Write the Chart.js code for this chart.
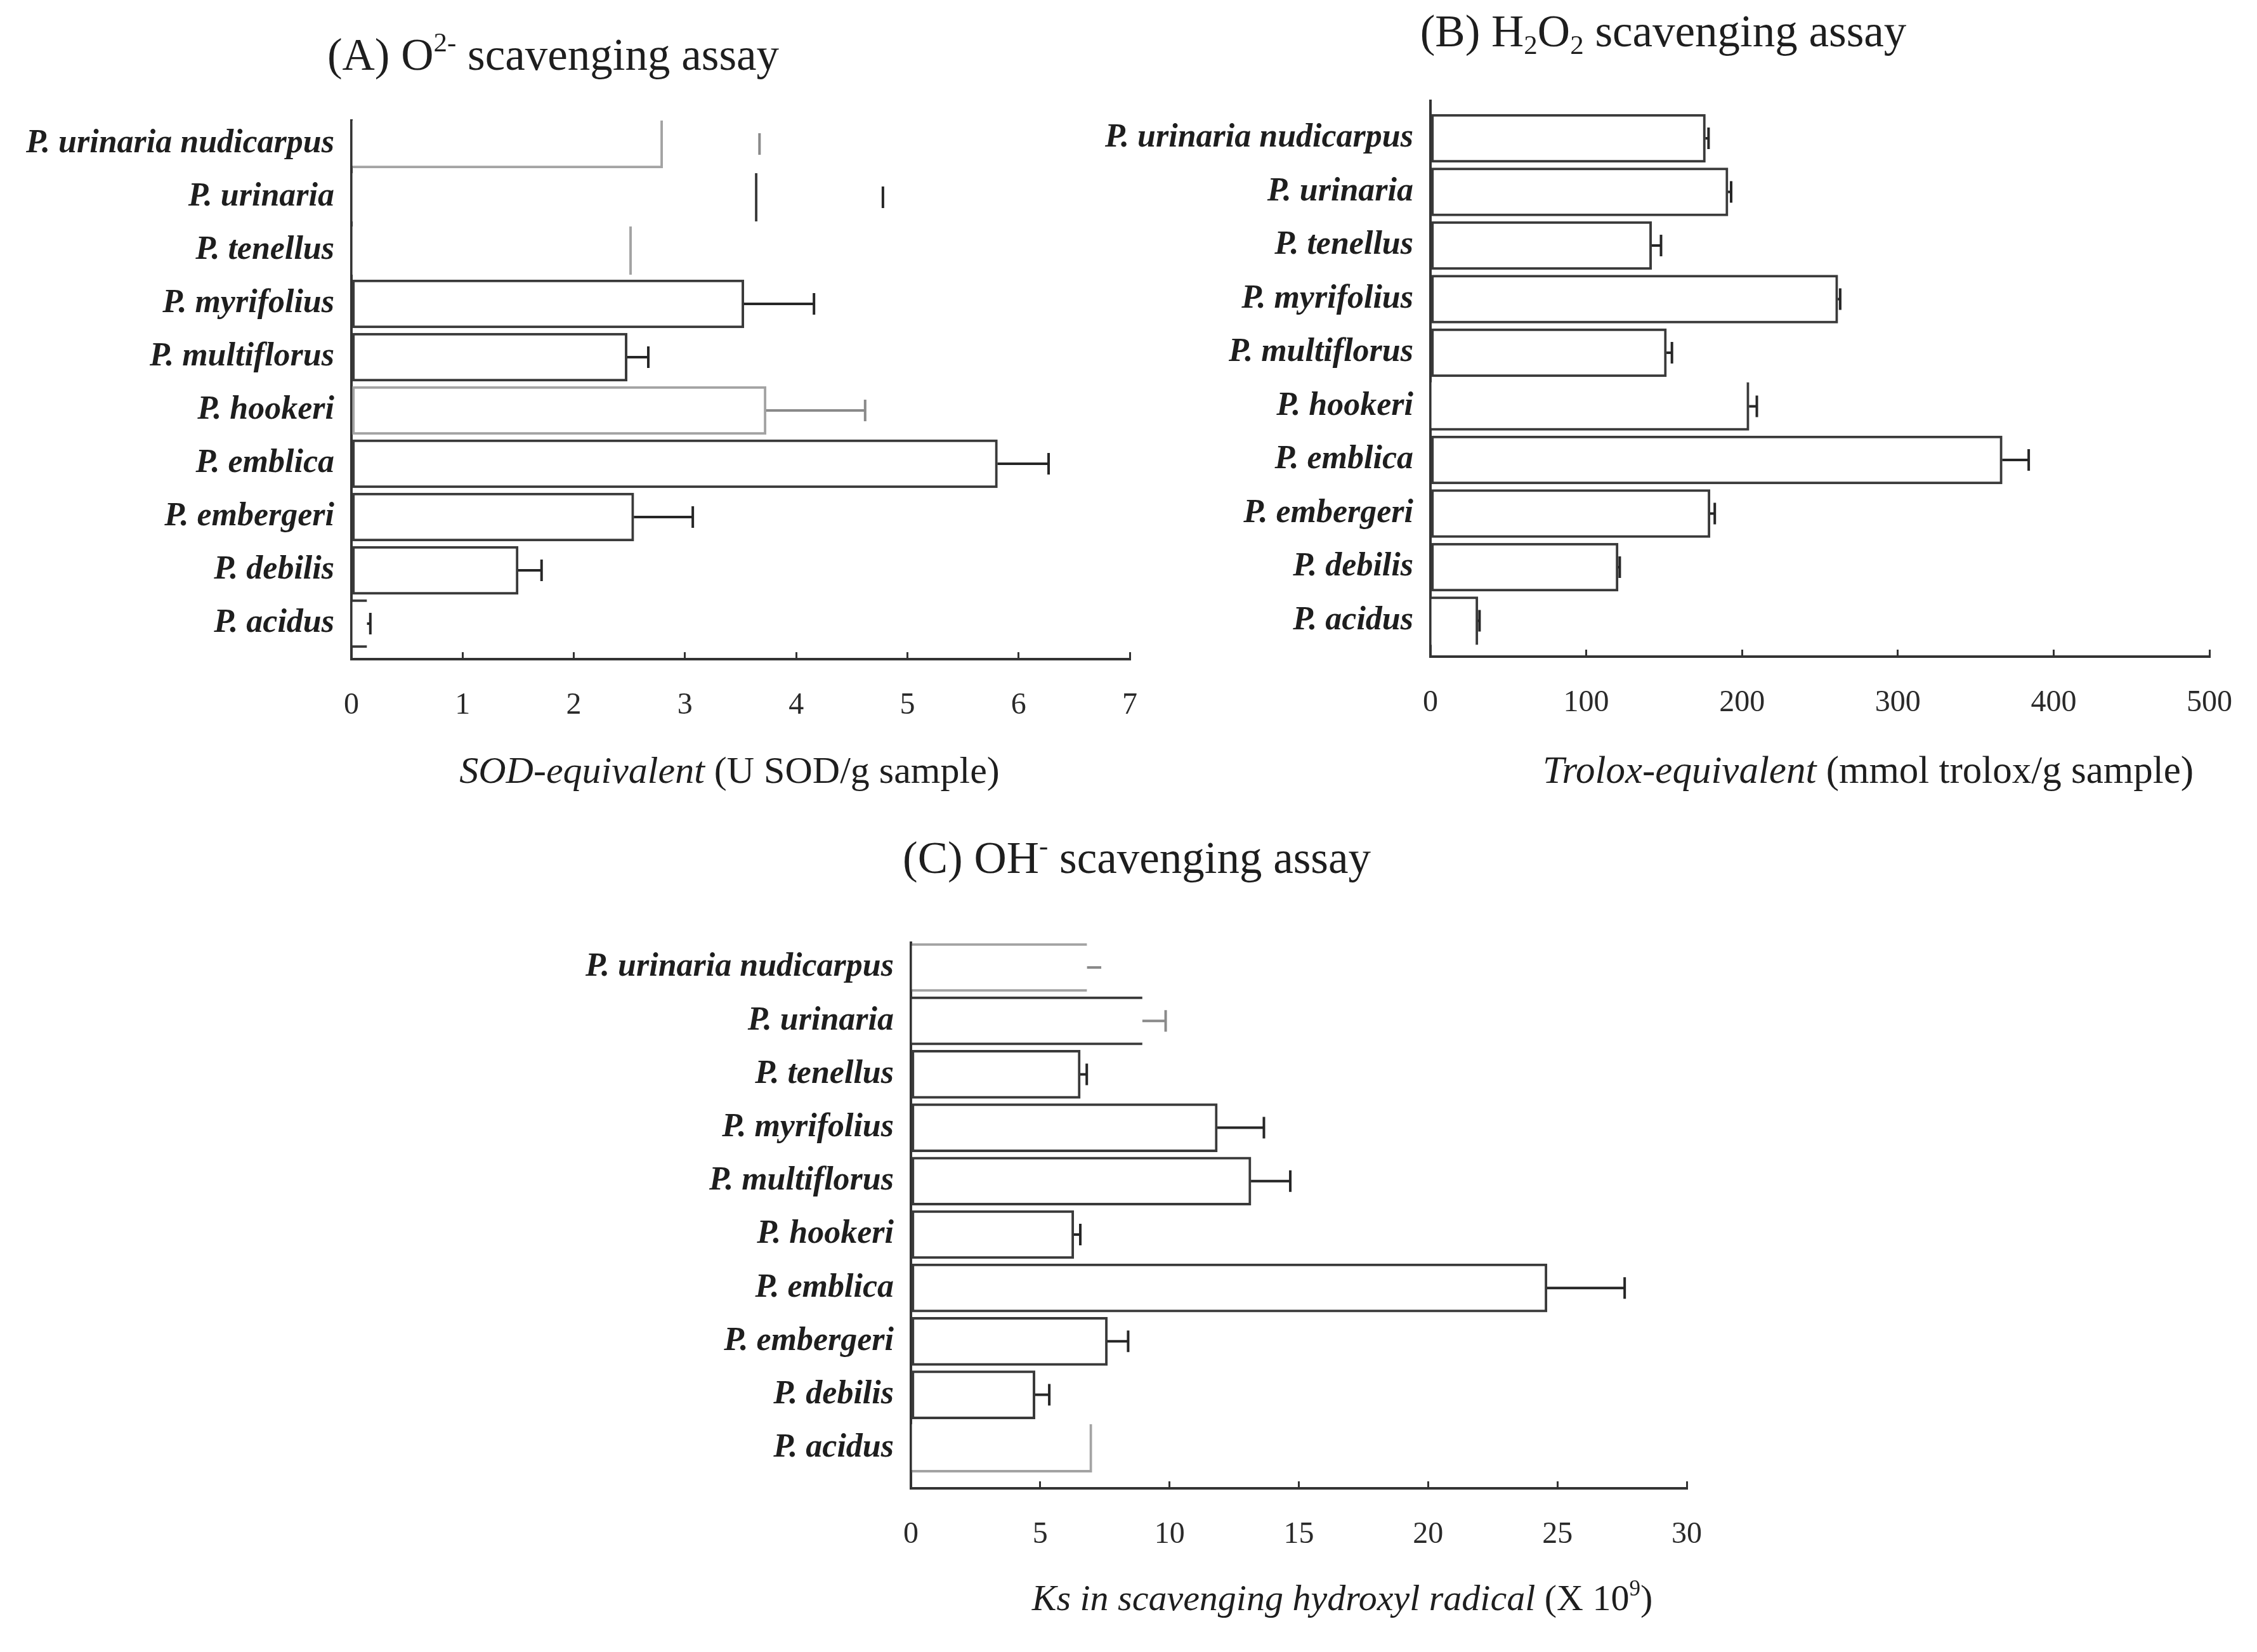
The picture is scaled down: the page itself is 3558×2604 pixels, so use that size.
<!DOCTYPE html>
<html lang="en">
<head>
<meta charset="UTF-8">
<title>Radical scavenging assays of Phyllanthus species</title>
<script src="https://cdn.jsdelivr.net/npm/chart.js"></script>
<style>
  html, body { margin: 0; padding: 0; background: #fff; }
  body { width: 3558px; height: 2604px; position: relative; overflow: hidden; }
  .panel { position: absolute; }
</style>
</head>
<body>
<div class="panel" style="left:0;top:0;width:1800px;height:1300px"><canvas id="chartA"></canvas></div>
<div class="panel" style="left:1650px;top:0;width:1908px;height:1300px"><canvas id="chartB"></canvas></div>
<div class="panel" style="left:800px;top:1300px;width:2000px;height:1304px"><canvas id="chartC"></canvas></div>
<script>
// species, top row first
const species = ['P. urinaria nudicarpus', 'P. urinaria', 'P. tenellus', 'P. myrifolius', 'P. multiflorus',
                 'P. hookeri', 'P. emblica', 'P. embergeri', 'P. debilis', 'P. acidus'];

// (A) superoxide, U SOD/g sample
const sodValues = [2.80, 3.65, 2.52, 3.53, 2.48, 3.73, 5.81, 2.54, 1.50, 0.14];
const sodErrors = [0.87, 1.13, 0, 0.63, 0.19, 0.89, 0.46, 0.53, 0.21, 0.03];
const sodTicks = [0, 1, 2, 3, 4, 5, 6, 7];

// (B) hydrogen peroxide, mmol trolox/g sample
const troloxValues = [176.5, 191, 142, 261.5, 151.5, 204.5, 367, 179.5, 120.5, 30.5];
const troloxErrors = [2, 2, 6, 1.5, 3.5, 5, 17, 3, 1, 1];
const troloxTicks = [0, 100, 200, 300, 400, 500];

// (C) hydroxyl radical, Ks (x 10^9)
const ksValues = [6.81, 8.95, 6.55, 11.85, 13.15, 6.3, 24.6, 7.6, 4.8, 7.0];
const ksErrors = [0.55, 0.9, 0.25, 1.8, 1.52, 0.25, 3.0, 0.8, 0.55, 0];
const ksTicks = [0, 5, 10, 15, 20, 25, 30];

// text
const titleA = [['(A) O', ''], ['2-', 'sup'], [' scavenging assay', '']];
const titleB = [['(B) H', ''], ['2', 'sub'], ['O', ''], ['2', 'sub'], [' scavenging assay', '']];
const titleC = [['(C) OH', ''], ['-', 'sup'], [' scavenging assay', '']];
const axisA = [['SOD-equivalent', 'i'], [' (U SOD/g sample)', '']];
const axisB = [['Trolox-equivalent', 'i'], [' (mmol trolox/g sample)', '']];
const axisC = [['Ks in scavenging hydroxyl radical', 'i'], [' (X 10', ''], ['9', 'sup'], [')', '']];

// the scanned original lost some bar edges; sides kept, grey or dark, which part of the error bar shows
const lookA = [{ sides: 'rb', light: true, err: 'cap' }, { sides: 'r', err: 'cap' }, { sides: 'r', light: true, err: 'none' },
               {}, {}, { light: true, errLight: true }, {}, {}, {}, { sides: 'tb' }];
const lookB = [{}, {}, {}, {}, {}, { sides: 'rb' }, {}, {}, {}, { sides: 'tr' }];
const lookC = [{ sides: 'tb', light: true, err: 'whisker', errLight: true }, { sides: 'tb', errLight: true },
               {}, {}, {}, {}, {}, {}, {}, { sides: 'rb', light: true, err: 'none' }];

const FAMILY = '"Liberation Serif", "Times New Roman", serif';
const DARK = '#3a3a3a';
const LIGHT = '#a3a3a3';
const INK = '#1e1e1e';

function drawRich(ctx, parts, cx, cy, size) {
  const fontFor = s => (s === 'i' ? 'italic ' : '') +
    Math.round(s === 'sup' || s === 'sub' ? size * 0.6 : size) + 'px ' + FAMILY;
  let total = 0;
  parts.forEach(([t, s]) => { ctx.font = fontFor(s); total += ctx.measureText(t).width; });
  let x = cx - total / 2;
  ctx.save();
  ctx.fillStyle = INK;
  ctx.textAlign = 'left';
  ctx.textBaseline = 'middle';
  parts.forEach(([t, s]) => {
    ctx.font = fontFor(s);
    const dy = s === 'sup' ? -size * 0.3 : s === 'sub' ? size * 0.28 : 0;
    ctx.fillText(t, x, cy + dy);
    x += ctx.measureText(t).width;
  });
  ctx.restore();
}

function makePanel(canvasId, p) {
  const canvas = document.getElementById(canvasId);
  const W = canvas.parentNode.clientWidth;
  const H = canvas.parentNode.clientHeight;
  const a = p.area;

  const sideWidths = look => {
    const s = look.sides || 'trbl';
    return { top: s.includes('t') ? 4 : 0, right: s.includes('r') ? 4 : 0,
             bottom: s.includes('b') ? 4 : 0, left: s.includes('l') ? 4 : 0 };
  };

  const errorBars = {
    id: 'errorBars',
    afterDatasetsDraw(chart) {
      const ctx = chart.ctx;
      const xs = chart.scales.x;
      const meta = chart.getDatasetMeta(0);
      meta.data.forEach((bar, i) => {
        const look = p.look[i];
        const mode = look.err || 'full';
        if (mode === 'none' || !p.errors[i]) return;
        const x0 = bar.x;
        const x1 = xs.getPixelForValue(p.values[i] + p.errors[i]);
        ctx.save();
        ctx.strokeStyle = look.errLight || look.light ? '#8a8a8a' : '#262626';
        ctx.lineWidth = 4;
        ctx.beginPath();
        if (mode !== 'cap') { ctx.moveTo(x0, bar.y); ctx.lineTo(x1, bar.y); }
        if (mode !== 'whisker') { ctx.moveTo(x1, bar.y - 17); ctx.lineTo(x1, bar.y + 17); }
        ctx.stroke();
        ctx.restore();
      });
    }
  };

  const texts = {
    id: 'panelTexts',
    afterDraw(chart) {
      const ctx = chart.ctx;
      drawRich(ctx, p.title, p.titlePos[0], p.titlePos[1], 71);
      drawRich(ctx, p.axisTitle, p.axisPos[0], p.axisPos[1], p.axisSize);
    }
  };

  return new Chart(canvas, {
    type: 'bar',
    data: {
      datasets: [{
        data: p.values.map((v, i) => ({ x: v, y: i })),
        backgroundColor: '#ffffff',
        borderColor: ctx => (p.look[ctx.dataIndex].light ? LIGHT : DARK),
        borderWidth: ctx => sideWidths(p.look[ctx.dataIndex]),
        borderSkipped: false,
        barThickness: 76
      }]
    },
    options: {
      indexAxis: 'y',
      responsive: true,
      maintainAspectRatio: false,
      animation: false,
      devicePixelRatio: 1,
      layout: { padding: { top: a.top, right: W - a.right, bottom: 0, left: 0 } },
      plugins: { legend: { display: false }, tooltip: { enabled: false }, title: { display: false } },
      scales: {
        x: {
          type: 'linear',
          position: 'bottom',
          min: p.ticks[0],
          max: p.ticks[p.ticks.length - 1],
          afterBuildTicks: scale => { scale.ticks = p.ticks.map(v => ({ value: v })); },
          afterFit: scale => {
            scale.height = H - a.bottom;
            scale.paddingLeft = 0;
            scale.paddingRight = 0;
          },
          grid: { drawOnChartArea: false, drawTicks: true, tickLength: -11, color: '#333', lineWidth: 3 },
          border: { display: true, color: '#333', width: 4 },
          ticks: { padding: 56, color: '#2a2a2a', autoSkip: false, maxRotation: 0,
                   font: { family: FAMILY, size: 48 } }
        },
        y: {
          type: 'linear',
          reverse: true,
          offset: false,
          min: p.rows[0],
          max: p.rows[1],
          z: 1,
          afterBuildTicks: scale => { scale.ticks = species.map((_, i) => ({ value: i })); },
          afterFit: scale => {
            scale.width = a.left;
            scale.paddingTop = 0;
            scale.paddingBottom = 0;
          },
          grid: { display: false, drawTicks: false },
          border: { display: true, color: '#333', width: 4 },
          ticks: { padding: 27, color: INK, autoSkip: false,
                   callback: v => species[v],
                   font: { family: FAMILY, size: 52, style: 'italic', weight: 'bold' } }
        }
      }
    },
    plugins: [errorBars, texts]
  });
}

makePanel('chartA', {
  values: sodValues, errors: sodErrors, ticks: sodTicks, look: lookA,
  area: { left: 554, right: 1781, top: 190, bottom: 1039 }, rows: [-0.44, 9.667],
  title: titleA, titlePos: [872, 91], axisTitle: axisA, axisPos: [1150, 1218], axisSize: 60
});
makePanel('chartB', {
  values: troloxValues, errors: troloxErrors, ticks: troloxTicks, look: lookB,
  area: { left: 605, right: 1833, top: 159, bottom: 1035 }, rows: [-0.698, 9.669],
  title: titleB, titlePos: [972, 54], axisTitle: axisB, axisPos: [1295, 1218], axisSize: 61
});
makePanel('chartC', {
  values: ksValues, errors: ksErrors, ticks: ksTicks, look: lookC,
  area: { left: 636, right: 1859, top: 186, bottom: 1046 }, rows: [-0.463, 9.751],
  title: titleC, titlePos: [992, 57], axisTitle: axisC, axisPos: [1316, 1223], axisSize: 58
});
</script>
</body>
</html>
